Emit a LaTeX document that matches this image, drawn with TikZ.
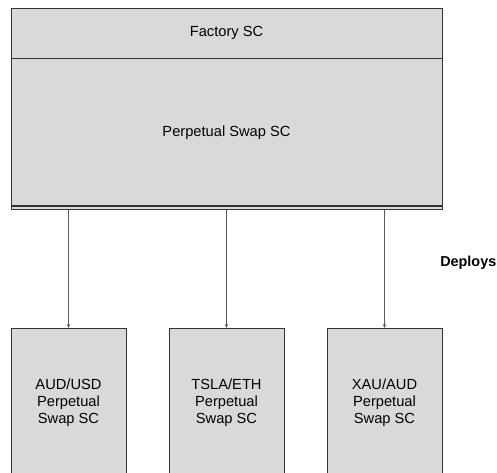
\documentclass[tikz,border=0pt]{standalone}
\usepackage{fontspec}
\setmainfont{Liberation Sans}
\usetikzlibrary{arrows.meta}
\definecolor{boxgray}{HTML}{D9D9D9}
\definecolor{edgegray}{HTML}{333333}
\definecolor{linegray}{HTML}{595959}
\begin{document}
\begin{tikzpicture}[x=1pt,y=-1pt,
    sc/.style={draw=edgegray,fill=boxgray,line width=0.8pt,inner sep=0pt,align=center,
      font=\fontsize{14.67}{17}\selectfont},
    deploy/.style={draw=linegray,line width=0.8pt,-{Stealth[length=4pt,width=3.5pt]}}]
    \useasboundingbox (0,0) rectangle (497,472);
    \clip (0,0) rectangle (497,472);
    \def\pairs{AUD/USD,TSLA/ETH,XAU/AUD}
    \node[sc,minimum width=431,minimum height=50] (factory) at (226.5,33) {Factory SC};
    \node[sc,minimum width=431,minimum height=147,anchor=north] (perp) at (factory.south) {Perpetual Swap SC};
    \node[sc,minimum width=431,minimum height=3,anchor=north] (base) at (perp.south) {};
    \foreach \p [count=\i from 0] in \pairs {\node[sc,minimum width=115,minimum height=148,anchor=north] (swap\i) at ({68.5+158*\i},328) {\p\\Perpetual\\Swap SC};}
    \foreach \i in {0,1,2} {\draw[deploy] (base.south -| swap\i.north) -- (swap\i.north);}
    \node[anchor=east,inner sep=0pt,font=\bfseries\fontsize{14.4}{17}\selectfont] (deploys) at (496.5,263) {Deploys};
  \end{tikzpicture}
\end{document}
